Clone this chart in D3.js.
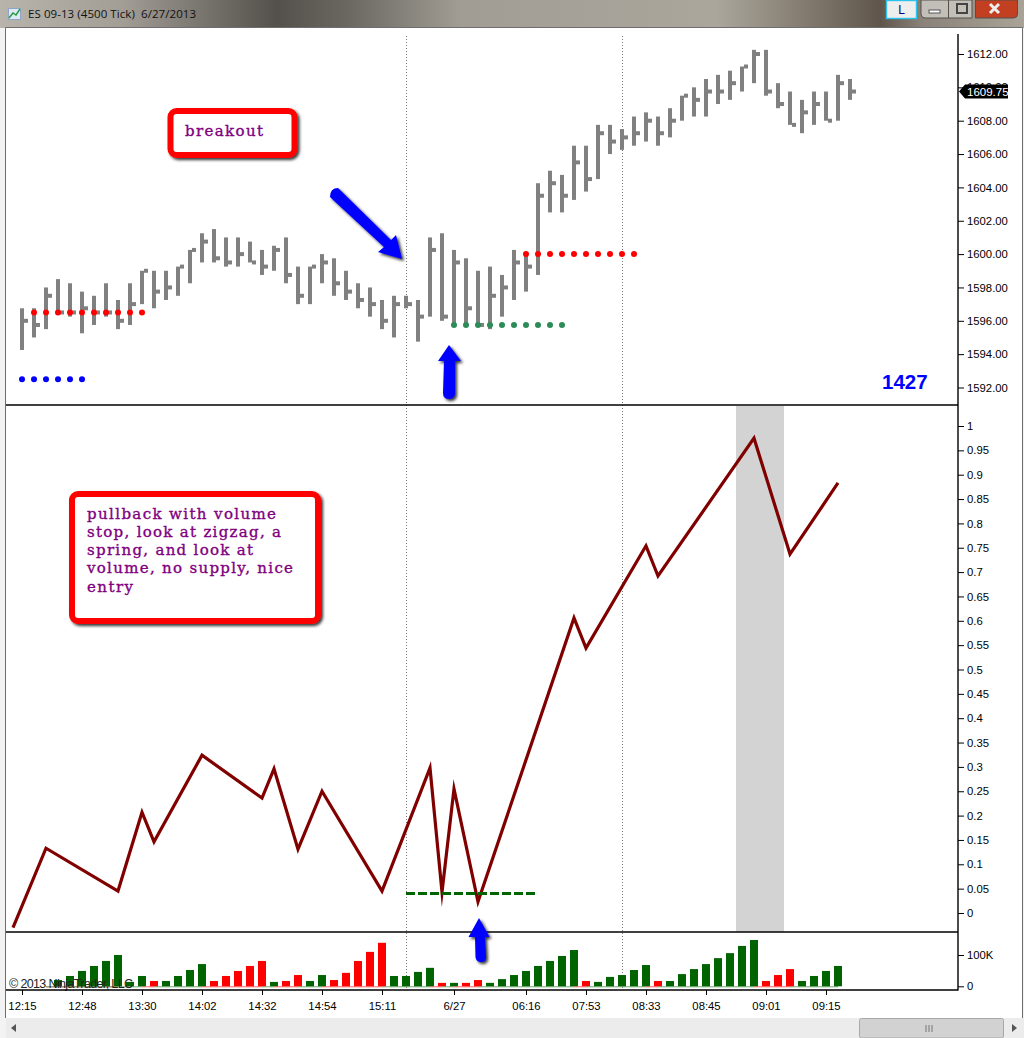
<!DOCTYPE html>
<html><head><meta charset="utf-8">
<script src="https://cdnjs.cloudflare.com/ajax/libs/d3/7.8.5/d3.min.js"></script>
<style>
html,body{margin:0;padding:0;background:#fff;overflow:hidden}
svg{display:block}
.ax text{font-family:"Liberation Sans",Arial,sans-serif;font-size:11.3px;fill:#000}
.ax line{stroke:#000;stroke-width:1}
.note{font-family:"DejaVu Serif",serif;font-size:15px;fill:#800080;font-weight:400;stroke:#800080;stroke-width:0.35px}
</style></head><body>
<svg id="c" width="1024" height="1038"></svg>
<script>
// ---- data ----
const barHigh  = [1596.75,1596.75,1598,1598.5,1598.25,1597.75,1597.5,1598.25,1597.25,1598.25,1599,1599,1599,1599.25,1600.25,1601.25,1601.5,1601,1601,1600.75,1600.25,1600.5,1601,1599.25,1599.25,1600,1599.75,1599,1598.25,1598,1597.25,1597.5,1597.5,1597.25,1601,1601.25,1600.25,1599.75,1599,1599.25,1598.75,1600.25,1600,1604.25,1605,1604.75,1606.5,1606.5,1607.75,1607.75,1607.5,1608.25,1608.5,1608.25,1608.75,1609.5,1610,1610.5,1610.75,1611,1611.25,1612.25,1612.25,1610.25,1609.75,1609.25,1609.75,1609.75,1610.75,1610.5];
const barLow   = [1594.25,1595,1595.5,1596.5,1596.25,1595.25,1595.75,1596.25,1595.5,1595.75,1597,1596.75,1597.25,1597.5,1598.25,1599.5,1599.5,1599.25,1599.25,1599.5,1598.75,1599,1598.25,1597,1597,1598.25,1597.5,1597.25,1596.75,1596.25,1595.5,1595,1596.75,1594.75,1596.25,1596,1595.75,1595.75,1595.75,1595.5,1596.25,1597.25,1597.75,1598.75,1602.5,1602.5,1603.25,1603.75,1604.5,1606,1606.25,1606.5,1606.75,1606.5,1607,1608,1608.25,1608.25,1609,1609.25,1609.75,1610.25,1609.5,1608.75,1607.75,1607.25,1607.75,1608,1608,1609.25];
const barClose = [1596,1595.75,1597.5,1596.5,1596.5,1596.75,1596.5,1596.5,1596,1597,1599,1597.75,1598,1599.25,1600.25,1600.75,1599.75,1599.5,1600,1599.5,1599.25,1600.25,1598.75,1597.5,1599.25,1599.5,1598.25,1597.75,1597.25,1597,1596,1597,1597,1596.25,1600.25,1596.25,1599.5,1596.75,1595.75,1597.5,1598,1599.5,1599.25,1603.5,1604.25,1603.5,1605.5,1604.5,1607.25,1606.75,1607,1607.25,1608,1607.25,1608,1609.5,1609.25,1609.75,1609.75,1610.25,1611.25,1612,1609.75,1609,1607.75,1608.5,1609,1608,1610.25,1609.75];

const blueDotIdx = [0,1,2,3,4,5];           const blueDotPrice = 1592.5;
const redDotIdxA = [1,2,3,4,5,6,7,8,9,10];  const redDotPriceA = 1596.5;
const redDotIdxB = [42,43,44,45,46,47,48,49,50,51]; const redDotPriceB = 1600;
const greenDotIdx = [36,37,38,39,40,41,42,43,44,45]; const greenDotPrice = 1595.75;

const lineIdx  = [-0.75,2,8,10,11,15,20,21,23,25,30,34,35,36,38,46,47,52,53,61,64,68];
const lineVals = [-0.03,0.133,0.045,0.207,0.146,0.324,0.236,0.296,0.131,0.25,0.045,0.298,0.043,0.255,0.023,0.606,0.544,0.754,0.692,0.975,0.737,0.883];

const volIdx  = [3,4,5,6,7,8,9,10,11,12,13,14,15,16,17,18,19,20,21,22,23,24,25,26,27,28,29,30,31,32,33,34,35,36,37,38,39,40,41,42,43,44,45,46,47,48,49,50,51,52,53,54,55,56,57,58,59,60,61,62,63,64,65,66,67,68];
const volK    = [20,33,49,65,81,100,14,33,17,17,33,52,71,17,33,49,65,81,14,17,36,17,36,20,43,81,110,139,33,33,46,59,11,11,11,20,11,23,36,49,65,81,97,116,17,14,30,36,52,68,17,17,39,55,71,90,106,129,148,17,36,55,17,33,49,65];
const volDown = [0,0,0,0,0,0,0,0,1,0,0,0,0,1,1,1,1,1,0,1,1,0,0,1,1,1,1,1,0,0,0,0,1,0,1,1,0,0,0,0,0,0,0,0,1,0,0,0,0,0,1,0,0,0,0,0,0,0,0,1,1,1,0,0,0,0];

const timeTickIdx = [0,5,10,15,20,25,30,36,42,47,52,57,62,67];
const timeTickLabels = ["12:15","12:48","13:30","14:02","14:32","14:54","15:11","6/27","06:16","07:53","08:33","08:45","09:01","09:15"];
const priceTicks = [1592,1594,1596,1598,1600,1602,1604,1606,1608,1610,1612];
const lineTicks = [0,0.05,0.1,0.15,0.2,0.25,0.3,0.35,0.4,0.45,0.5,0.55,0.6,0.65,0.7,0.75,0.8,0.85,0.9,0.95,1];
const volTicks = [0,100];
const lastPrice = 1609.75;
const sessionLinesIdx = [32,50];
const shadeIdx = [59.5,63.5];
const supportIdx = [32,42.75]; const supportVal = 0.04;
const noteA = ["breakout"];
const noteB = ["pullback with volume","stop, look at zigzag, a","spring, and look at","volume, no supply, nice","entry"];
const noteBWidths = [189,194,166,206,46];

// ---- scales ----
const x = d3.scaleLinear().domain([0,69]).range([22,850]);
const yP = d3.scaleLinear().domain([1592,1612]).range([387.5,54]);
const yL = d3.scaleLinear().domain([0,1]).range([913,426]);
const yV = d3.scaleLinear().domain([0,100]).range([986.3,955]);

const svg = d3.select("#c");
const defs = svg.append("defs");
const f = defs.append("filter").attr("id","sh").attr("x","-20%").attr("y","-20%").attr("width","150%").attr("height","150%");
f.append("feDropShadow").attr("dx",2).attr("dy",2).attr("stdDeviation",1.4).attr("flood-color","#000").attr("flood-opacity",0.8);
const g = defs.append("linearGradient").attr("id","tb");
[[0,"#b8b4ac"],[0.12,"#a29e96"],[0.2,"#77736d"],[0.27,"#54514c"],[0.34,"#6b6862"],[0.45,"#a19d94"],[0.7,"#aaa69c"],[0.8,"#7d7469"],[0.86,"#5f554b"],[0.9,"#8a8278"],[1,"#a9a297"]]
  .forEach(d=>g.append("stop").attr("offset",d[0]).attr("stop-color",d[1]));

// window chrome
svg.append("rect").attr("width",1024).attr("height",1038).attr("fill","#f3f3f3");
svg.append("rect").attr("width",1024).attr("height",28).attr("fill","url(#tb)");
svg.append("rect").attr("x",6).attr("y",28).attr("width",1016).attr("height",990).attr("fill","#fff");
svg.append("path").attr("d","M5.5 1018V27.5H1022.5V1018").attr("fill","none").attr("stroke","#6e6e6e").attr("stroke-width",1);
svg.append("rect").attr("x",6).attr("y",1018).attr("width",1018).attr("height",20).attr("fill","#ececec");
svg.append("rect").attr("x",859.5).attr("y",1018.5).attr("width",144).attr("height",19.5).attr("rx",2).attr("fill","#d2d2d2").attr("stroke","#a8a8a8");
svg.append("path").attr("d","M926 1025v7M929 1025v7M932 1025v7").attr("stroke","#777");
svg.append("path").attr("d","M16 1024l-5 4 5 4z").attr("fill","#555");
svg.append("path").attr("d","M1012 1024l5 4-5 4z").attr("fill","#555");
// title bar
svg.append("rect").attr("x",8.5).attr("y",8.5).attr("width",12).attr("height",11).attr("fill","#dfe8f5").attr("stroke","#8fa6c6");
svg.append("path").attr("d","M9 18l4-5 3 2 4-6").attr("fill","none").attr("stroke","#1f9c3c").attr("stroke-width",1.4);
svg.append("text").attr("x",28).attr("y",18).attr("font-family","'Open Sans',sans-serif").attr("font-size",11.5).attr("fill","#111")
  .attr("textLength",168).attr("xml:space","preserve").text("ES 09-13 (4500 Tick)  6/27/2013");
svg.append("rect").attr("x",886.5).attr("y",0.5).attr("width",30).attr("height",18).attr("fill","#eeeeee").attr("stroke","#2bc4ef").attr("stroke-width",1.4);
svg.append("text").attr("x",901.5).attr("y",14).attr("text-anchor","middle").attr("font-family","'Liberation Sans',sans-serif").attr("font-size",12).attr("fill","#000080").text("L");
svg.append("path").attr("d","M921 0v14a4 4 0 0 0 4 4h47V0z").attr("fill","#c2bfb8").attr("stroke","#55504a");
svg.append("path").attr("d","M948.5 0v18").attr("stroke","#55504a");
svg.append("rect").attr("x",929).attr("y",10).attr("width",11).attr("height",3).attr("fill","#fff").attr("stroke","#555");
svg.append("rect").attr("x",957).attr("y",4).attr("width",10).attr("height",9).attr("fill","none").attr("stroke","#444").attr("stroke-width",2);
svg.append("path").attr("d","M975.5 0v18h38a4 4 0 0 0 4 -4V0z").attr("fill","#c23f22").attr("stroke","#55504a");
svg.append("path").attr("d","M990 4l9 9m0-9l-9 9").attr("stroke","#eee").attr("stroke-width",3);

// shading, session lines
svg.append("rect").attr("x",x(shadeIdx[0])).attr("y",406).attr("width",x(shadeIdx[1])-x(shadeIdx[0])).attr("height",526).attr("fill","#d3d3d3");
svg.selectAll(".sess").data(sessionLinesIdx).join("line").attr("class","sess")
  .attr("x1",d=>x(d)+0.5).attr("x2",d=>x(d)+0.5).attr("y1",36).attr("y2",988)
  .attr("stroke","#777").attr("stroke-dasharray","1 2");

// price bars
const idx = d3.range(barHigh.length);
svg.selectAll(".hl").data(idx).join("rect").attr("class","hl")
  .attr("x",i=>x(i)-2).attr("width",4).attr("y",i=>yP(barHigh[i])).attr("height",i=>yP(barLow[i])-yP(barHigh[i])).attr("fill","#808080");
svg.selectAll(".cl").data(idx).join("rect").attr("class","cl")
  .attr("x",i=>x(i)+2).attr("width",4).attr("y",i=>yP(barClose[i])-2).attr("height",4).attr("fill","#808080");

// dots
function dots(ids,p,col){ svg.append("g").selectAll("circle").data(ids).join("circle").attr("cx",x).attr("cy",yP(p)).attr("r",3).attr("fill",col); }
dots(blueDotIdx,blueDotPrice,"#0000ff");
dots(redDotIdxA,redDotPriceA,"#ff0000");
dots(redDotIdxB,redDotPriceB,"#ff0000");
dots(greenDotIdx,greenDotPrice,"#2e8b57");

// line panel
svg.append("path").datum(lineIdx.map((d,i)=>[d,lineVals[i]]))
  .attr("d",d3.line().x(d=>x(d[0])).y(d=>yL(d[1])))
  .attr("fill","none").attr("stroke","#800000").attr("stroke-width",3.2).attr("stroke-miterlimit",12);
svg.append("line").attr("x1",x(supportIdx[0])).attr("x2",x(supportIdx[1])).attr("y1",yL(supportVal)).attr("y2",yL(supportVal))
  .attr("stroke","#006400").attr("stroke-width",3).attr("stroke-dasharray","9 3");

// volume
svg.append("line").attr("x1",x(2)).attr("x2",x(8)).attr("y1",yV(0)+0.5).attr("y2",yV(0)+0.5).attr("stroke","#ff0000").attr("opacity",0.7);
svg.selectAll(".vs").data(volIdx).join("line").attr("class","vs")
  .attr("x1",i=>x(i-1)).attr("x2",i=>x(i)).attr("y1",yV(0)+0.5).attr("y2",yV(0)+0.5)
  .attr("stroke",(d,k)=>volDown[k]?"#ff6060":"#6fa56f");
svg.selectAll(".vb").data(volIdx).join("rect").attr("class","vb")
  .attr("x",i=>x(i)-4).attr("width",8)
  .attr("y",(d,k)=>yV(volK[k])).attr("height",(d,k)=>yV(0)-yV(volK[k]))
  .attr("fill",(d,k)=>volDown[k]?"#ff0000":"#006400");
svg.append("text").attr("x",9).attr("y",988).attr("font-family","'Liberation Sans',sans-serif").attr("font-size",12.5).attr("fill","#222").attr("textLength",124).text("© 2013 NinjaTrader, LLC");

// axes and panel rules
svg.selectAll(".rule").data([405,932,990]).join("line").attr("class","rule")
  .attr("x1",6).attr("x2",958).attr("y1",d=>d).attr("y2",d=>d).attr("stroke","#000").attr("stroke-width",1.4);
svg.append("line").attr("x1",958).attr("x2",958).attr("y1",34).attr("y2",990.5).attr("stroke","#000").attr("stroke-width",1.4);
const axP = svg.append("g").attr("class","ax").attr("transform","translate(958,0)")
  .call(d3.axisRight(yP).tickValues(priceTicks).tickFormat(d3.format(".2f")).tickSize(6).tickPadding(3));
const axL = svg.append("g").attr("class","ax").attr("transform","translate(958,0)")
  .call(d3.axisRight(yL).tickValues(lineTicks).tickFormat(d=>String(+d.toFixed(2))).tickSize(6).tickPadding(3));
const axV = svg.append("g").attr("class","ax").attr("transform","translate(958,0)")
  .call(d3.axisRight(yV).tickValues(volTicks).tickFormat(d=>d?d+"K":"0").tickSize(6).tickPadding(3));
const axT = svg.append("g").attr("class","ax").attr("transform","translate(0,990)")
  .call(d3.axisBottom(x).tickValues(timeTickIdx).tickFormat((d,i)=>timeTickLabels[i]).tickSize(5).tickPadding(7));
[axP,axL,axV,axT].forEach(a=>a.select(".domain").remove());

// last price tag
const ty = yP(lastPrice);
svg.append("path").attr("d",`M959 ${ty}l6-7h43v14h-43z`).attr("fill","#000");
svg.append("text").attr("x",967).attr("y",ty+4.5).attr("font-family","'Liberation Sans',sans-serif").attr("font-size",11.5).attr("fill","#fff").text(d3.format(".2f")(lastPrice));

svg.append("text").attr("x",882).attr("y",389).attr("font-family","'Liberation Sans',sans-serif").attr("font-weight",700).attr("font-size",20.5).attr("fill","#0000ff").text("1427");

// annotation boxes
function box(xa,ya,w,h){ svg.append("rect").attr("x",xa).attr("y",ya).attr("width",w).attr("height",h).attr("rx",6).attr("fill","#fff").attr("stroke","#ff0000").attr("stroke-width",6).attr("filter","url(#sh)"); }
box(170.5,111,124,44);
box(72,494,246,127);
svg.append("text").attr("class","note").attr("x",185).attr("y",135.5).attr("textLength",78).attr("lengthAdjust","spacing").text(noteA[0]);
svg.selectAll(".nb").data(noteB).join("text").attr("class","note nb").attr("x",87)
  .attr("y",(d,i)=>518.5+i*18.25).attr("textLength",(d,i)=>noteBWidths[i]).attr("lengthAdjust","spacing").text(d=>d);

// arrows
const arrows = [
 "M330 197 Q330 188 338 188 L391 240 L396 235 L402 259 L378 252 L384 247 Z",
 "M443 393 L444 361 L438 361 L449 345 L461 361 L455 361 L455 394 Q454 399 449 399 Q443 399 443 393 Z",
 "M475.5 957 L475 937 L468.5 937 L479 918 L489.5 937 L485 937 L486 957 Q486 962 481 962 Q476 962 475.5 957 Z"];
svg.selectAll(".arr").data(arrows).join("path").attr("class","arr").attr("d",d=>d).attr("fill","#0000ff").attr("filter","url(#sh)");
</script>
</body></html>
